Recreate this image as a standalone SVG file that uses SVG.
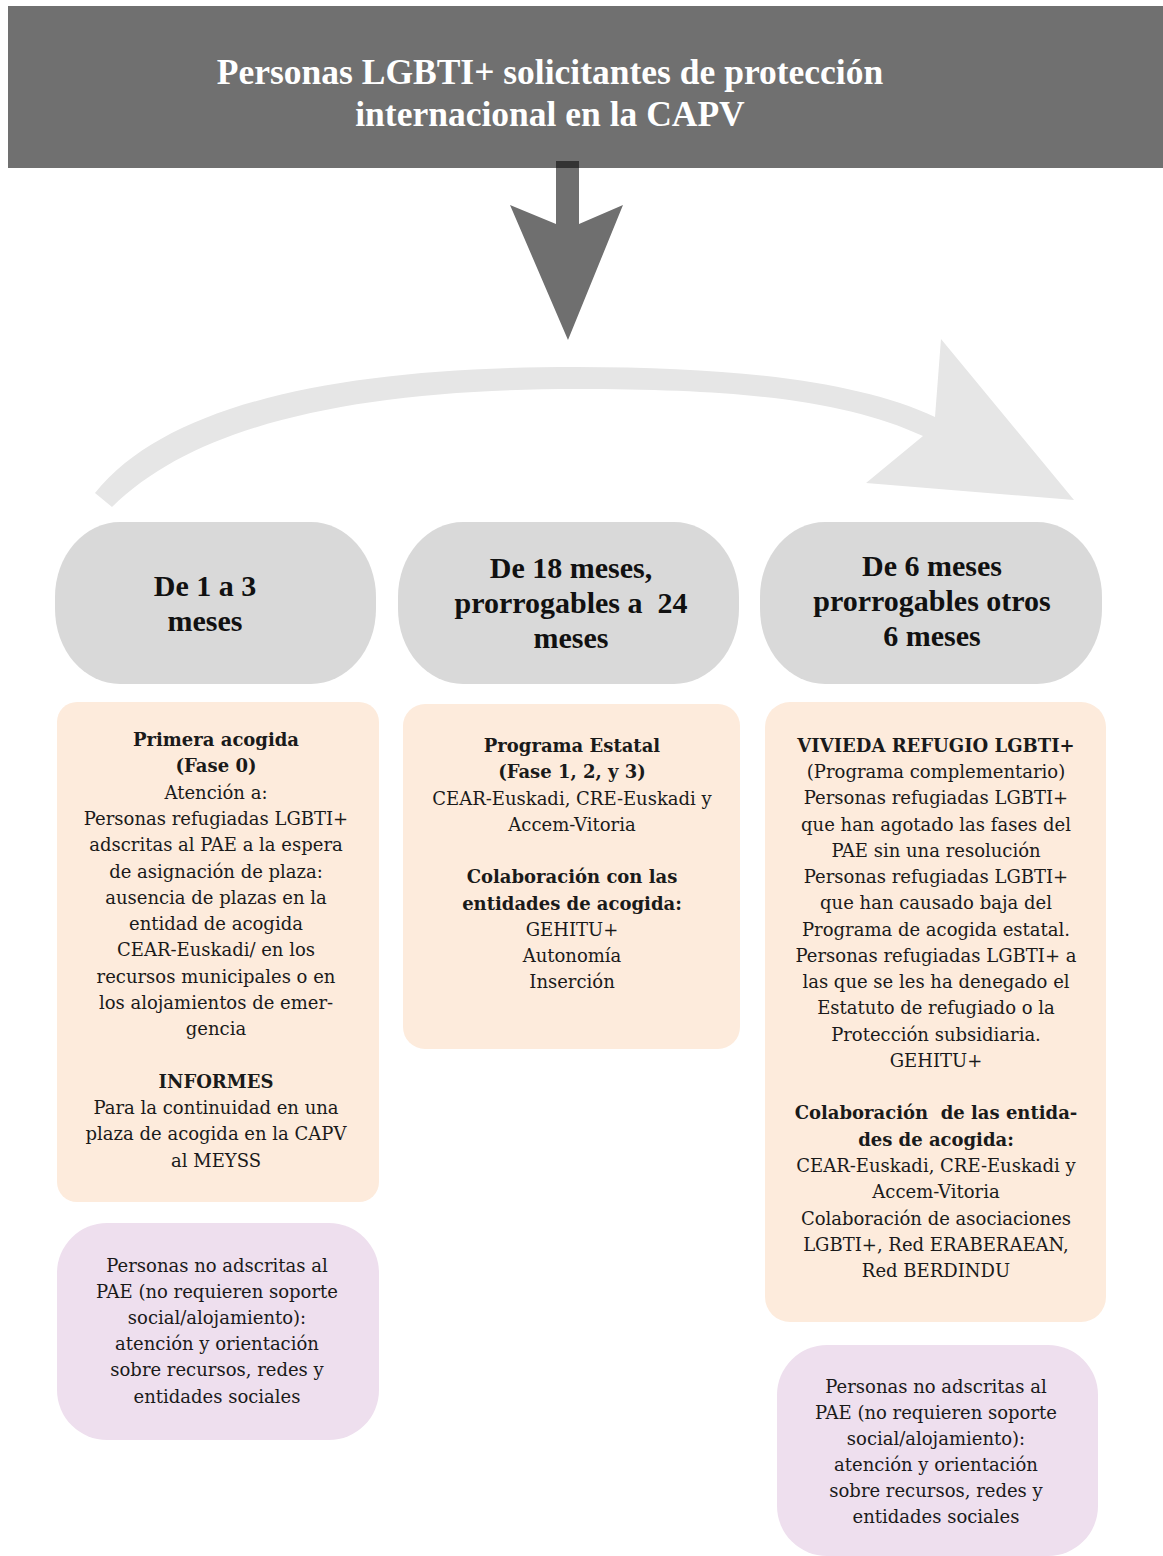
<svg xmlns="http://www.w3.org/2000/svg" width="1163" height="1556" viewBox="0 0 1163 1556">
<style>
.title{font-family:"Liberation Serif",serif;font-weight:bold;font-size:35.5px;fill:#ffffff;text-anchor:middle}
.pill{fill:#d9d9d9}
.pt{font-family:"Liberation Serif",serif;font-weight:bold;font-size:30px;fill:#111;text-anchor:middle}
.ob{fill:#fdebdc}
.pb{fill:#eedfee}
.bt{font-family:"DejaVu Serif",serif;font-size:18px;fill:#1a1a1a;text-anchor:middle}
.b{font-weight:bold}
</style>
<rect width="1163" height="1556" fill="#ffffff"/>
<g id="header">
<rect x="8" y="6" width="1155" height="162" fill="#707070"/>
<text class="title" x="550" y="84">Personas LGBTI+ solicitantes de protección</text>
<text class="title" x="550" y="126">internacional en la CAPV</text>
</g>
<g id="connectors">
<path d="M556,161 H579 V224 L623,205 L568,340 L510,205 L556,224 Z" fill="#6f6f6f"/>
<rect x="556" y="161" width="23" height="7" fill="#333333"/>
<path d="M95,493 C170,400 350,367 576,367 C740,367 860,382 935,417 L941,339 L1074,500 L866,483 L923,436 C845,400 740,389 576,389 C370,389 200,420 112,507 Z" fill="#e6e6e6"/>
</g>
<g id="pill1">
<rect class="pill" x="55" y="522" width="321" height="162" rx="65" ry="75"/>
<text class="pt" x="205" y="596">De 1 a 3</text>
<text class="pt" x="205" y="631">meses</text>
</g>
<g id="pill2">
<rect class="pill" x="398" y="522" width="341" height="162" rx="65" ry="75"/>
<text class="pt" x="571" y="578">De 18 meses,</text>
<text class="pt" x="571" y="613" xml:space="preserve">prorrogables a  24</text>
<text class="pt" x="571" y="648">meses</text>
</g>
<g id="pill3">
<rect class="pill" x="760" y="522" width="342" height="162" rx="65" ry="75"/>
<text class="pt" x="932" y="576">De 6 meses</text>
<text class="pt" x="932" y="611">prorrogables otros</text>
<text class="pt" x="932" y="646">6 meses</text>
</g>
<g id="box1">
<rect class="ob" x="57" y="702" width="322" height="500" rx="20"/>
<text class="bt b" x="216" y="746">Primera acogida</text>
<text class="bt b" x="216" y="772">(Fase 0)</text>
<text class="bt" x="216" y="799">Atención a:</text>
<text class="bt" x="216" y="825">Personas refugiadas LGBTI+</text>
<text class="bt" x="216" y="851">adscritas al PAE a la espera</text>
<text class="bt" x="216" y="878">de asignación de plaza:</text>
<text class="bt" x="216" y="904">ausencia de plazas en la</text>
<text class="bt" x="216" y="930">entidad de acogida</text>
<text class="bt" x="216" y="956">CEAR-Euskadi/ en los</text>
<text class="bt" x="216" y="983">recursos municipales o en</text>
<text class="bt" x="216" y="1009">los alojamientos de emer-</text>
<text class="bt" x="216" y="1035">gencia</text>
<text class="bt b" x="216" y="1088">INFORMES</text>
<text class="bt" x="216" y="1114">Para la continuidad en una</text>
<text class="bt" x="216" y="1140">plaza de acogida en la CAPV</text>
<text class="bt" x="216" y="1167">al MEYSS</text>
</g>
<g id="box2">
<rect class="ob" x="403" y="704" width="337" height="345" rx="22"/>
<text class="bt b" x="572" y="752">Programa Estatal</text>
<text class="bt b" x="572" y="778">(Fase 1, 2, y 3)</text>
<text class="bt" x="572" y="805">CEAR-Euskadi, CRE-Euskadi y</text>
<text class="bt" x="572" y="831">Accem-Vitoria</text>
<text class="bt b" x="572" y="883">Colaboración con las</text>
<text class="bt b" x="572" y="910">entidades de acogida:</text>
<text class="bt" x="572" y="936">GEHITU+</text>
<text class="bt" x="572" y="962">Autonomía</text>
<text class="bt" x="572" y="988">Inserción</text>
</g>
<g id="box3">
<rect class="ob" x="765" y="702" width="341" height="620" rx="25"/>
<text class="bt b" x="936" y="752">VIVIEDA REFUGIO LGBTI+</text>
<text class="bt" x="936" y="778">(Programa complementario)</text>
<text class="bt" x="936" y="804">Personas refugiadas LGBTI+</text>
<text class="bt" x="936" y="831">que han agotado las fases del</text>
<text class="bt" x="936" y="857">PAE sin una resolución</text>
<text class="bt" x="936" y="883">Personas refugiadas LGBTI+</text>
<text class="bt" x="936" y="909">que han causado baja del</text>
<text class="bt" x="936" y="936">Programa de acogida estatal.</text>
<text class="bt" x="936" y="962">Personas refugiadas LGBTI+ a</text>
<text class="bt" x="936" y="988">las que se les ha denegado el</text>
<text class="bt" x="936" y="1014">Estatuto de refugiado o la</text>
<text class="bt" x="936" y="1041">Protección subsidiaria.</text>
<text class="bt" x="936" y="1067">GEHITU+</text>
<text class="bt b" x="936" y="1119" xml:space="preserve">Colaboración  de las entida-</text>
<text class="bt b" x="936" y="1146">des de acogida:</text>
<text class="bt" x="936" y="1172">CEAR-Euskadi, CRE-Euskadi y</text>
<text class="bt" x="936" y="1198">Accem-Vitoria</text>
<text class="bt" x="936" y="1225">Colaboración de asociaciones</text>
<text class="bt" x="936" y="1251">LGBTI+, Red ERABERAEAN,</text>
<text class="bt" x="936" y="1277">Red BERDINDU</text>
</g>
<g id="box4">
<rect class="pb" x="57" y="1223" width="322" height="217" rx="50"/>
<text class="bt" x="217" y="1272">Personas no adscritas al</text>
<text class="bt" x="217" y="1298">PAE (no requieren soporte</text>
<text class="bt" x="217" y="1324">social/alojamiento):</text>
<text class="bt" x="217" y="1350">atención y orientación</text>
<text class="bt" x="217" y="1376">sobre recursos, redes y</text>
<text class="bt" x="217" y="1403">entidades sociales</text>
</g>
<g id="box5">
<rect class="pb" x="777" y="1345" width="321" height="211" rx="50"/>
<text class="bt" x="936" y="1393">Personas no adscritas al</text>
<text class="bt" x="936" y="1419">PAE (no requieren soporte</text>
<text class="bt" x="936" y="1445">social/alojamiento):</text>
<text class="bt" x="936" y="1471">atención y orientación</text>
<text class="bt" x="936" y="1497">sobre recursos, redes y</text>
<text class="bt" x="936" y="1523">entidades sociales</text>
</g>
</svg>
